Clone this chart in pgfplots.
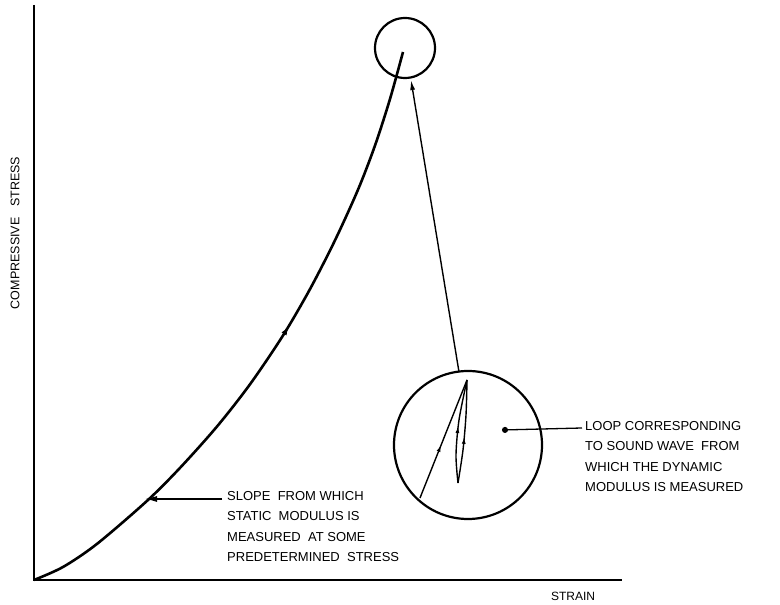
\documentclass[border=0pt]{standalone}
\usepackage{pgfplots}
\pgfplotsset{compat=1.18}
\usepackage{fontspec}
\setmainfont{Liberation Sans}
\usetikzlibrary{arrows.meta,decorations.markings}
\begin{document}
\begin{tikzpicture}
\begin{axis}[scale only axis, width=780pt, height=605pt,
  xmin=0, xmax=780, ymin=0, ymax=605, hide axis, clip=false]
% invisible frame fixing the picture's extent
\addplot[draw=none] coordinates {(0,0) (780,605)};
% axes
\addplot[black, line width=1.6pt] coordinates {(34,600) (34,25) (622,25)};
% stress-strain curve
\addplot[black, line width=2.6pt, smooth,
  postaction={decorate}, decoration={markings, mark=at position 0.55 with {\arrow{Latex[length=9pt,width=6pt]}}}]
  coordinates {(34,25) (63,38) (97,61.1) (147,104.1) (180,137.1) (217,178.5) (250,220.7) (283,269.5) (310,315.9) (335,364.7) (358,415.3) (375,459.5) (390,506) (403,553)};
% circles
\addplot[black, line width=2.2pt, only marks, mark=o, mark size=30pt] coordinates {(405,557)};
\addplot[black, line width=2.2pt, only marks, mark=o, mark size=74pt] coordinates {(468,160)};
% connecting line
\addplot[black, line width=1.4pt, -{Latex[length=10pt,width=5pt]}] coordinates {(459,233) (411,525)};
% segment in big circle
\addplot[black, line width=1.4pt,
  postaction={decorate}, decoration={markings, mark=at position 0.45 with {\arrow{Latex[length=7pt,width=4pt]}}}]
  coordinates {(420,107) (467,225)};
% loop
\addplot[black, line width=1.4pt, smooth,
  postaction={decorate}, decoration={markings, mark=at position 0.55 with {\arrow{Latex[length=7pt,width=4pt]}}}]
  coordinates {(458,122) (456,150) (459,185) (467,225)};
\addplot[black, line width=1.4pt, smooth,
  postaction={decorate}, decoration={markings, mark=at position 0.45 with {\arrow{Latex[length=7pt,width=4pt]}}}]
  coordinates {(458,122) (463,155) (466,190) (467,225)};
% pointers
\addplot[black, line width=1.3pt, {Circle[length=6pt]}-] coordinates {(502,175) (582,177)};
\addplot[black, line width=1.3pt, -{Latex[length=12pt,width=6pt]}] coordinates {(222,106) (145,106)};
% labels
\node[rotate=90, font=\fontsize{12.5}{14}\selectfont] at (axis cs:15,372) {COMPRESSIVE\ \ \ STRESS};
\node[font=\fontsize{12}{14}\selectfont] at (axis cs:573,9) {STRAIN};
\node[anchor=north west, align=left, font=\fontsize{13}{20.5}\selectfont, inner sep=0pt] at (axis cs:227,114) {SLOPE\ \ FROM WHICH\\STATIC\ \ MODULUS IS\\MEASURED\ \ AT SOME\\PREDETERMINED\ \ STRESS};
\node[anchor=north west, align=left, font=\fontsize{13}{20.5}\selectfont, inner sep=0pt] at (axis cs:585,184) {LOOP CORRESPONDING\\TO\ SOUND WAVE\ \ FROM\\WHICH THE\ DYNAMIC\\MODULUS\ IS\ MEASURED};
\end{axis}
\end{tikzpicture}
\end{document}
